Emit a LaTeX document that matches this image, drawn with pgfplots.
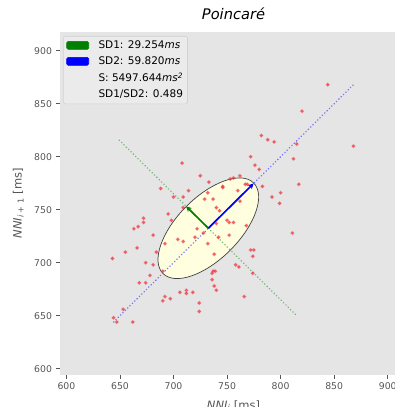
\documentclass[border=0pt]{standalone}
\usepackage{fontspec}
\setmainfont{DejaVu Sans}
\usepackage{pgfplots}
\pgfplotsset{compat=1.18}
\usetikzlibrary{arrows.meta}
\definecolor{bggray}{HTML}{E5E5E5}
\definecolor{tickgray}{HTML}{555555}
\definecolor{mplgreen}{HTML}{008000}
\definecolor{mplblue}{HTML}{0000FF}
\definecolor{ellfill}{HTML}{FFFFE0}
\definecolor{ptred}{HTML}{F0303C}
\definecolor{legbg}{HTML}{EBEBEB}
\definecolor{legedge}{HTML}{D2D2D2}
\begin{document}
\begin{tikzpicture}
\begin{axis}[
  scale only axis,
  width=347bp, height=343.3bp,
  xmin=594, xmax=918, ymin=594, ymax=918,
  xtick={600,650,700,750,800,850,900},
  ytick={600,650,700,750,800,850,900},
  axis background/.style={fill=bggray},
  axis line style={draw=none},
  tick align=outside,
  xtick pos=bottom, ytick pos=left,
  major tick length=3.5bp,
  tick style={color=tickgray, line width=0.8bp},
  /pgf/number format/assume math mode=true,
  /pgf/number format/1000 sep={},
  ticklabel style={font=\fontsize{9.3bp}{11bp}\selectfont, text=tickgray},
  xticklabel style={yshift=-1bp},
  yticklabel style={xshift=-1bp},
  title={\textit{Poincaré}},
  title style={at={(axis description cs:0.5,1)}, anchor=base, yshift=6bp, font=\fontsize{14.6bp}{17bp}\selectfont},
  xlabel={\textit{NNI}\textsubscript{\textit{i}} [ms]},
  ylabel={\textit{NNI}\textsubscript{\textit{i} + 1} [ms]},
  xlabel style={at={(axis description cs:0.5,0)}, anchor=base, yshift=-34bp, font=\fontsize{11.5bp}{13bp}\selectfont, text=tickgray},
  ylabel style={at={(axis description cs:0,0.5)}, rotate=0, anchor=base, yshift=38.3bp, font=\fontsize{11.5bp}{13bp}\selectfont, text=tickgray},
  legend style={at={(axis description cs:0.009,0.9875)}, anchor=north west,
    fill=legbg, draw=legedge, line width=0.6bp, rounded corners=1.5bp,
    font=\fontsize{10.5bp}{12bp}\selectfont, row sep=3.6bp, column sep=4bp,
    inner xsep=3bp, inner ysep=3bp,
    nodes={inner sep=1.5bp},
    /tikz/every odd column/.append style={column sep=8bp}},
  legend cell align=left,
  clip=true,
]
% ellipse
\draw[fill=ellfill, draw=black!75, line width=0.7bp, rotate around={45:(axis cs:732.5,732.5)}]
  (axis cs:732.5,732.5) ellipse [x radius=59.82, y radius=29.254];
% points
\addplot[only marks, mark=*, mark size=1.6bp, mark options={fill=ptred, draw=ptred, fill opacity=0.7, draw opacity=0.3, line width=1bp}, forget plot] coordinates {
(782,820) (788,816) (794,814) (868,810) (815,812) (844,868) (820,843) (812,798)
(772,800) (776,792) (780,788) (817,774) (708,794) (725,782) (762,782) (756,780)
(733,776) (767,774) (769,774) (688,770) (714,768) (746,772) (760,768) (783,772)
(700,762) (709,762) (732,766) (729,760) (762,758) (792,762) (800,766) (799,756)
(709,752) (740,752) (743,749) (737,760) (695,746) (698,740) (672,742) (672,738)
(667,734) (663,732) (750,740) (752,738) (756,738) (740,737) (722,732) (728,728)
(768,735) (681,726) (704,722) (709,720) (742,724) (752,726) (720,724) (811,728)
(692,718) (732,718) (643,704) (655,710) (666,714) (684,710) (738,708) (772,712)
(775,712) (774,706) (674,700) (681,698) (678,688) (668,681) (674,681) (690,692)
(692,668) (690,664) (697,666) (706,672) (712,674) (712,671) (718,672) (724,662)
(724,654) (653,656) (644,648) (647,644) (662,644) (737,692) (739,692) (736,690)
(736,684) (738,678) (740,674) (758,698) (761,696) (766,668) (774,690) (753,779)
(746,771)
};
% identity line and SD1 axis
\addplot[mplblue!55, line width=1.5bp, line cap=round, dash pattern=on 0.3bp off 3bp, forget plot] coordinates {(644,644) (868,868)};
\addplot[mplgreen!55, line width=1.5bp, line cap=round, dash pattern=on 0.3bp off 3bp, forget plot] coordinates {(649.3,815.7) (815.7,649.3)};
% arrows
\addplot[mplgreen, line width=1.7bp, -{Stealth[length=5.5bp,width=5.5bp]}, forget plot] coordinates {(732.5,732.5) (711.8,753.2)};
\addplot[mplblue, line width=1.7bp, -{Stealth[length=5.5bp,width=5.5bp]}, forget plot] coordinates {(732.5,732.5) (774.8,774.8)};
% legend entries
\addlegendimage{legend image code/.code={\fill[mplgreen] (0bp,-4bp) rectangle (22bp,4bp);}}
\addlegendentry{SD1: 29.254\textit{ms}}
\addlegendimage{legend image code/.code={\fill[mplblue] (0bp,-4bp) rectangle (22bp,4bp);}}
\addlegendentry{SD2: 59.820\textit{ms}}
\addlegendimage{empty legend}
\addlegendentry{S: 5497.644\textit{ms\textsuperscript{2}}}
\addlegendimage{empty legend}
\addlegendentry{SD1/SD2: 0.489}
\end{axis}
\pgfresetboundingbox
\path (-60bp,-32bp) rectangle (335bp,375bp);
\end{tikzpicture}
\end{document}
